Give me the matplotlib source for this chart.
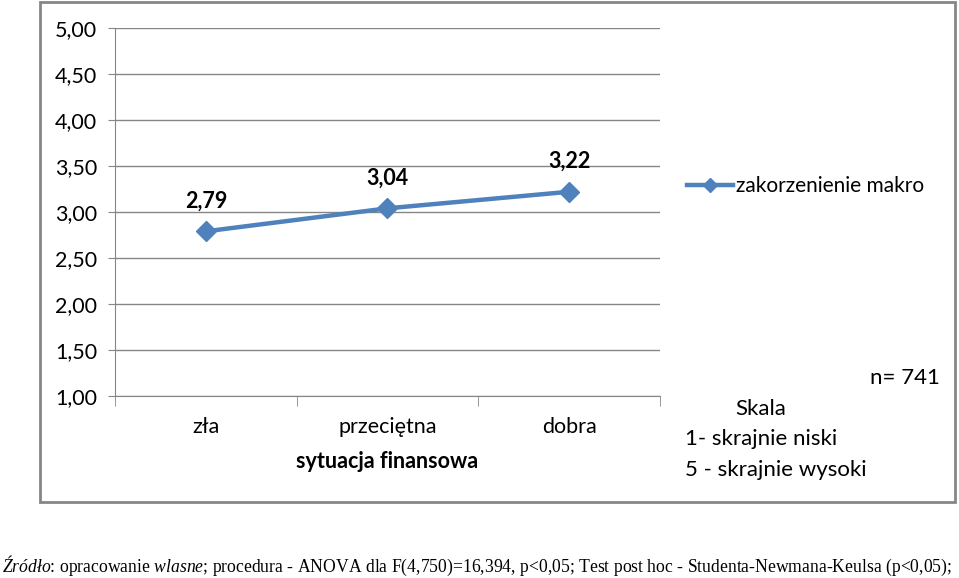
import matplotlib
matplotlib.use("Agg")
import matplotlib.pyplot as plt
from matplotlib.patches import Rectangle

# dane
kategorie = ["zła", "przeciętna", "dobra"]
wartosci = [2.79, 3.04, 3.22]
seria = "zakorzenienie makro"
y_ticki = [1.0, 1.5, 2.0, 2.5, 3.0, 3.5, 4.0, 4.5, 5.0]

plt.rcParams['font.family'] = ['Lato', 'DejaVu Sans']
plt.rcParams['mathtext.fontset'] = 'custom'
plt.rcParams['mathtext.rm'] = 'Liberation Serif'
plt.rcParams['mathtext.it'] = 'Liberation Serif:italic'
szary = "#868686"
niebieski = "#4F81BD"

fig = plt.figure(figsize=(9.59, 5.78), dpi=100)
fig.patches.append(Rectangle((40/959, 1-502/578), 915/959, 500/578,
                             transform=fig.transFigure, fill=False,
                             edgecolor=szary, linewidth=2))

ax = fig.add_axes([115/959, 1-396/578, 545/959, 368/578])
x = list(range(len(kategorie)))
ax.plot(x, wartosci, color=niebieski, linewidth=3.2, marker="D",
        markersize=10, label=seria)
for xi, v in zip(x, wartosci):
    ax.annotate(f"{v:.2f}".replace(".", ","), (xi, v), xytext=(0, 17),
                textcoords="offset points", ha="center", fontsize=15.5,
                fontweight="bold")

ax.set_xlim(-0.5, len(kategorie) - 0.5)
ax.set_ylim(1, 5)
ax.set_yticks(y_ticki)
ax.set_yticklabels([f"{t:.2f}".replace(".", ",") for t in y_ticki], fontsize=15.5)
ax.set_xticks(x)
ax.set_xticklabels(kategorie, fontsize=15.5)
ax.set_xticks([i - 0.5 for i in range(len(kategorie) + 1)], minor=True)
ax.tick_params(axis="x", which="major", length=0, pad=15)
ax.tick_params(axis="x", which="minor", length=7, color=szary)
ax.tick_params(axis="y", length=5, color=szary, pad=8)
ax.grid(axis="y", color=szary, linewidth=1)
ax.set_axisbelow(True)
for s in ["top", "right"]:
    ax.spines[s].set_visible(False)
for s in ["left", "bottom"]:
    ax.spines[s].set_color(szary)
ax.set_xlabel("sytuacja finansowa", fontsize=15.5, fontweight="bold", labelpad=10)

fig.legend(loc="center left", bbox_to_anchor=(668/959, 1-186/578), frameon=False,
           fontsize=15, handlelength=2.2, handletextpad=0.15, markerscale=0.75)

fig.text(940/959, 1-378/578, "n= 741", ha="right", va="center", fontsize=16)
fig.text(735/959, 1-409/578, "Skala", ha="left", va="center", fontsize=16)
fig.text(685/959, 1-439/578, "1- skrajnie niski", ha="left", va="center", fontsize=16)
fig.text(685/959, 1-470/578, "5 - skrajnie wysoki", ha="left", va="center", fontsize=16)

fig.text(2/959, 1-566/578,
         r"$\it{Źródło}$: opracowanie $\it{wlasne}$; procedura - ANOVA dla F(4,750)=16,394, p<0,05; Test post hoc - Studenta-Newmana-Keulsa (p<0,05);",
         ha="left", va="center", fontsize=12.7, family=["Liberation Serif"])

fig.savefig("out.png", dpi=100)
